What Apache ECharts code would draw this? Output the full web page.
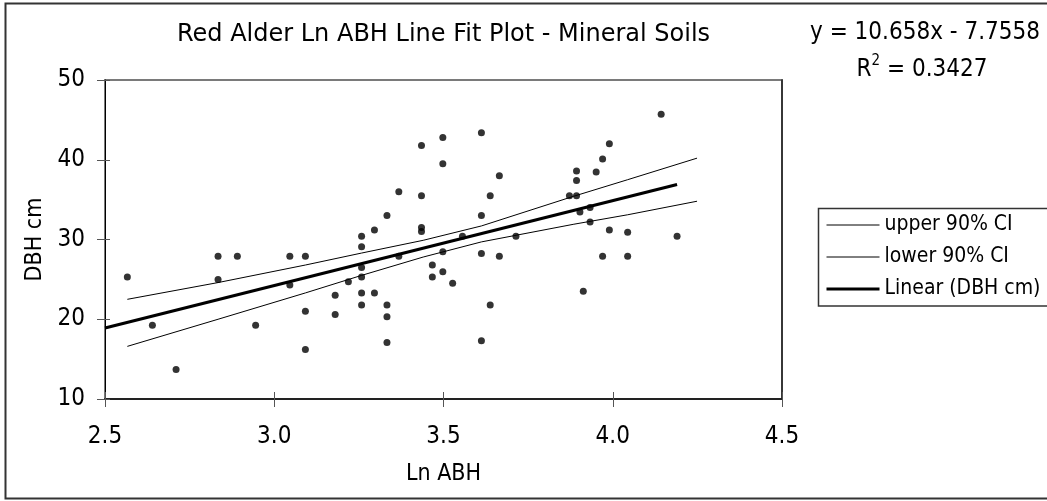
<!DOCTYPE html>
<html>
<head>
<meta charset="utf-8">
<script src="https://cdn.jsdelivr.net/npm/echarts@6/dist/echarts.min.js"></script>
<style>
  html, body { margin: 0; padding: 0; background: #fff; }
  #chart { width: 1047px; height: 501px; }
</style>
</head>
<body>
<div id="chart"></div>
<script>
// Ln ABH (x) and DBH in cm (y) for each measured red alder tree
const lnAbh = [
  2.566, 2.64, 2.71, 2.834, 2.834, 2.891, 2.945, 3.046, 3.046, 3.092,
  3.092, 3.092, 3.18, 3.18, 3.219, 3.258, 3.258, 3.258, 3.258, 3.258,
  3.258, 3.296, 3.296, 3.333, 3.333, 3.333, 3.333, 3.368, 3.368, 3.435,
  3.435, 3.435, 3.435, 3.467, 3.467, 3.498, 3.498, 3.498, 3.498, 3.527,
  3.556, 3.612, 3.612, 3.612, 3.612, 3.638, 3.638, 3.665, 3.665, 3.714,
  3.872, 3.893, 3.893, 3.893, 3.903, 3.913, 3.933, 3.933, 3.951, 3.97,
  3.97, 3.99, 3.99, 4.044, 4.044, 4.143, 4.19
];
const dbhCm = [
  25.3, 19.25, 13.7, 27.9, 25.0, 27.9, 19.25, 27.9, 24.3, 27.9,
  21.0, 16.2, 23.0, 20.6, 24.7, 30.4, 29.1, 26.5, 25.3, 23.3,
  21.8, 31.2, 23.3, 33.0, 21.8, 20.3, 17.1, 36.0, 27.9, 41.8,
  35.5, 31.5, 31.0, 26.8, 25.3, 42.8, 39.5, 28.45, 25.95, 24.5,
  30.4, 43.4, 33.0, 28.25, 17.3, 35.5, 21.8, 38.0, 27.9, 30.4,
  35.5, 38.6, 37.4, 35.5, 33.45, 23.5, 34.0, 32.2, 38.45, 40.1,
  27.9, 42.0, 31.2, 30.9, 27.9, 45.7, 30.4
];

// 90% confidence band, sampled along Ln ABH
const ciX     = [2.566, 2.834, 3.092, 3.258, 3.44, 3.612, 3.883, 4.044, 4.249];
const upperCi = [22.5, 24.6, 26.8, 28.3, 29.9, 31.7, 35.4, 37.5, 40.2];
const lowerCi = [16.6, 20.0, 23.3, 25.5, 27.8, 29.7, 31.9, 33.1, 34.8];

// Linear trend line end points
const fitX = [2.5, 4.19];
const fitY = [18.9, 36.9];

const chartTitle = 'Red Alder Ln ABH Line Fit Plot - Mineral Soils';
const equationText = 'y = 10.658x - 7.7558';
const rSquaredValue = '0.3427';
const xTitle = 'Ln ABH';
const yTitle = 'DBH cm';
const seriesNames = ['upper 90% CI', 'lower 90% CI', 'Linear (DBH cm)'];

const FONT = 'DejaVu Sans Condensed, DejaVu Sans, sans-serif';
const TITLE_FONT = 'DejaVu Sans, sans-serif';
const pairs = (xs, ys) => xs.map((x, i) => [x, ys[i]]);

const chart = echarts.init(document.getElementById('chart'), null, { renderer: 'canvas' });

const xBase = { type: 'value', min: 2.5, max: 4.5, interval: 0.5, gridIndex: 0, splitLine: { show: false } };
const yBase = { type: 'value', min: 10, max: 50, interval: 10, gridIndex: 0, splitLine: { show: false } };

const legendWidths = [1, 1, 3];

chart.setOption({
  animation: false,
  backgroundColor: '#ffffff',
  textStyle: { fontFamily: FONT },
  grid: {
    left: 105, top: 80, width: 677, height: 319,
    show: true, borderColor: '#7a7a7a', borderWidth: 2, backgroundColor: '#ffffff'
  },
  xAxis: [
    Object.assign({}, xBase, {
      position: 'bottom',
      name: xTitle, nameLocation: 'middle', nameGap: 64,
      nameTextStyle: { fontFamily: FONT, fontSize: 23, color: '#000' },
      axisLine: { show: true, onZero: false, lineStyle: { color: '#222', width: 2 } },
      axisTick: { show: true, inside: false, length: 8, lineStyle: { color: '#555', width: 1 } },
      axisLabel: { margin: 26, fontFamily: FONT, fontSize: 24, color: '#000',
                   formatter: v => v.toFixed(1) }
    }),
    Object.assign({}, xBase, {
      position: 'bottom',
      axisLine: { show: false },
      axisTick: { show: true, inside: true, length: 7, lineStyle: { color: '#555', width: 1 } },
      axisLabel: { show: false }
    })
  ],
  yAxis: [
    Object.assign({}, yBase, {
      position: 'left',
      name: yTitle, nameLocation: 'middle', nameGap: 58, nameRotate: 90,
      nameTextStyle: { fontFamily: FONT, fontSize: 23, color: '#000' },
      axisLine: { show: true, onZero: false, lineStyle: { color: '#000', width: 1 } },
      axisTick: { show: true, inside: false, length: 8, lineStyle: { color: '#555', width: 1 } },
      axisLabel: { margin: 20, fontFamily: FONT, fontSize: 24, color: '#000' }
    }),
    Object.assign({}, yBase, {
      position: 'left',
      axisLine: { show: false },
      axisTick: { show: true, inside: true, length: 5, lineStyle: { color: '#555', width: 1 } },
      axisLabel: { show: false }
    }),
    Object.assign({}, yBase, {
      position: 'right',
      axisLine: { show: true, lineStyle: { color: '#222', width: 1.5 } },
      axisTick: { show: false },
      axisLabel: { show: false }
    })
  ],
  legend: {
    orient: 'vertical',
    left: 825, top: 214,
    padding: 0,
    itemWidth: 53, itemHeight: 10, itemGap: 10,
    data: seriesNames.map((name, i) => ({
      name: name,
      itemStyle: { opacity: 0 },
      lineStyle: { color: '#000', width: legendWidths[i] }
    })),
    itemStyle: { opacity: 0 },
    textStyle: { fontFamily: FONT, fontSize: 21, lineHeight: 22, color: '#000', padding: [0, 0, 0, 0] },
    selectedMode: false
  },
  series: [
    {
      name: 'DBH cm', type: 'scatter', xAxisIndex: 0, yAxisIndex: 0,
      data: pairs(lnAbh, dbhCm),
      symbol: 'circle', symbolSize: 7,
      itemStyle: { color: '#000' }, z: 5
    },
    {
      name: seriesNames[0], type: 'line', xAxisIndex: 0, yAxisIndex: 0,
      data: pairs(ciX, upperCi), showSymbol: false, symbol: 'none',
      lineStyle: { color: '#000', width: 1 }, itemStyle: { color: '#000' }, z: 3
    },
    {
      name: seriesNames[1], type: 'line', xAxisIndex: 0, yAxisIndex: 0,
      data: pairs(ciX, lowerCi), showSymbol: false, symbol: 'none',
      lineStyle: { color: '#000', width: 1 }, itemStyle: { color: '#000' }, z: 3
    },
    {
      name: seriesNames[2], type: 'line', xAxisIndex: 0, yAxisIndex: 0,
      data: pairs(fitX, fitY), showSymbol: false, symbol: 'none',
      lineStyle: { color: '#000', width: 3 }, itemStyle: { color: '#000' }, z: 4
    }
  ],
  graphic: [
    { type: 'rect', silent: true, z: -10,
      shape: { x: 5.5, y: 3.5, width: 1100, height: 495 },
      style: { fill: 'none', stroke: '#333', lineWidth: 2 } },
    { type: 'rect', silent: true, z: -5,
      shape: { x: 818.5, y: 208.5, width: 260, height: 97.5 },
      style: { fill: '#fff', stroke: '#333', lineWidth: 1.5 } },
    { type: 'text', silent: true,
      style: { x: 443.5, y: 35, text: chartTitle, align: 'center', verticalAlign: 'middle',
               font: '24px ' + TITLE_FONT, fill: '#000' } },
    { type: 'text', silent: true,
      style: { x: 925, y: 33, text: equationText, align: 'center', verticalAlign: 'middle',
               font: '24px ' + FONT, fill: '#000' } },
    { type: 'text', silent: true,
      style: { x: 922, y: 68, align: 'center', verticalAlign: 'middle',
               text: '{n|R}{s|2}{n| = ' + rSquaredValue + '}',
               rich: {
                 n: { fontFamily: FONT, fontSize: 24, fill: '#000', verticalAlign: 'bottom', lineHeight: 28 },
                 s: { fontFamily: FONT, fontSize: 15, fill: '#000', verticalAlign: 'top', lineHeight: 28 }
               } } }
  ]
});
</script>
</body>
</html>
